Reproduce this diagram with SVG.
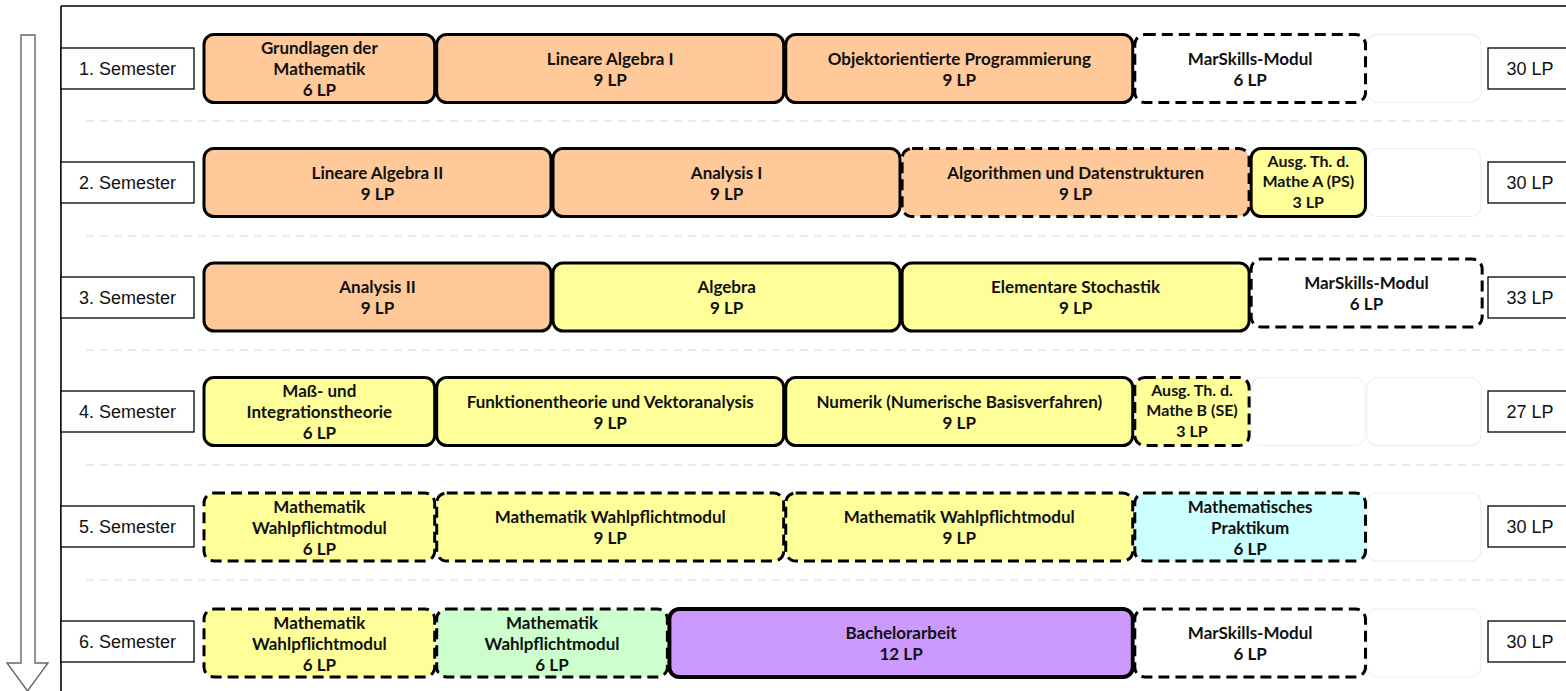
<svg xmlns="http://www.w3.org/2000/svg" width="1566" height="691" viewBox="0 0 1566 691">
<style>
.m{stroke:#000;stroke-width:3}
.d{stroke-dasharray:11 6}
.or{fill:#ffc999}.ye{fill:#ffff99}.wh{fill:#fff}.cy{fill:#ccffff}.gr{fill:#ccffcc}.pu{fill:#cc99ff}
.e{fill:#fff;stroke:#ececec;stroke-width:1}
.t{font-family:Lato,"Liberation Sans",sans-serif;font-weight:700;font-size:17px;text-anchor:middle;fill:#111}
.ts{font-size:16px}
.lb{fill:#fff;stroke:#000;stroke-width:1.3}
.s{font-family:"Liberation Sans",Arial,sans-serif;font-size:18px;text-anchor:middle;fill:#111}
.sep{stroke:#e6e6dc;stroke-width:1.5;stroke-dasharray:8 6;fill:none}
</style>
<rect width="1566" height="691" fill="#fff"/>
<g id="frame">
<path d="M61 6H1566M61 6V691" stroke="#000" stroke-width="1.6" fill="none"/>
<path class="sep" d="M86 121H1566M86 236H1566M86 350H1566M86 465H1566M86 580H1566"/>
</g>
<g id="connectors">
<path d="M21 35H35V663H48L27.5 691L7 663H21Z" fill="#fff" stroke="#666" stroke-width="1.4"/>
</g>
<g id="labels">
<g id="sem1"><rect class="lb" x="61" y="48" width="133" height="41"/><text class="s" x="127.5" y="75">1. Semester</text></g>
<g id="sem2"><rect class="lb" x="61" y="162" width="133" height="41"/><text class="s" x="127.5" y="189">2. Semester</text></g>
<g id="sem3"><rect class="lb" x="61" y="277" width="133" height="41"/><text class="s" x="127.5" y="304">3. Semester</text></g>
<g id="sem4"><rect class="lb" x="61" y="391" width="133" height="41"/><text class="s" x="127.5" y="418">4. Semester</text></g>
<g id="sem5"><rect class="lb" x="61" y="506" width="133" height="41"/><text class="s" x="127.5" y="533">5. Semester</text></g>
<g id="sem6"><rect class="lb" x="61" y="621" width="133" height="41"/><text class="s" x="127.5" y="648">6. Semester</text></g>
<g id="lp1"><rect class="lb" x="1488" y="48" width="90" height="41"/><text class="s" x="1530" y="75">30 LP</text></g>
<g id="lp2"><rect class="lb" x="1488" y="162" width="90" height="41"/><text class="s" x="1530" y="189">30 LP</text></g>
<g id="lp3"><rect class="lb" x="1488" y="277" width="90" height="41"/><text class="s" x="1530" y="304">33 LP</text></g>
<g id="lp4"><rect class="lb" x="1488" y="391" width="90" height="41"/><text class="s" x="1530" y="418">27 LP</text></g>
<g id="lp5"><rect class="lb" x="1488" y="506" width="90" height="41"/><text class="s" x="1530" y="533">30 LP</text></g>
<g id="lp6"><rect class="lb" x="1488" y="621" width="90" height="41"/><text class="s" x="1530" y="648">30 LP</text></g>
</g>
<g id="placeholders">
<rect class="e" x="1367" y="34.5" width="114" height="68" rx="10"/>
<rect class="e" x="1367" y="148.5" width="114" height="68" rx="10"/>
<rect class="e" x="1251" y="377.5" width="114" height="68" rx="10"/>
<rect class="e" x="1367" y="377.5" width="114" height="68" rx="10"/>
<rect class="e" x="1367" y="493" width="114" height="68" rx="10"/>
<rect class="e" x="1367" y="609" width="114" height="68" rx="10"/>
</g>
<g id="row1">
<g id="grundlagen"><rect class="m or" x="204" y="34.5" width="230.7" height="68" rx="10"/><text class="t"><tspan x="319.35" y="54">Grundlagen der</tspan><tspan x="319.35" y="75">Mathematik</tspan><tspan x="319.35" y="96">6 LP</tspan></text></g>
<g id="la1"><rect class="m or" x="436.7" y="34.5" width="347" height="68" rx="10"/><text class="t"><tspan x="610.2" y="64.5">Lineare Algebra I</tspan><tspan x="610.2" y="85.5">9 LP</tspan></text></g>
<g id="oop"><rect class="m or" x="785.75" y="34.5" width="347" height="68" rx="10"/><text class="t"><tspan x="959.3" y="64.5">Objektorientierte Programmierung</tspan><tspan x="959.3" y="85.5">9 LP</tspan></text></g>
<g id="marskills1"><rect class="m d wh" x="1134.8" y="34.5" width="230.7" height="68" rx="10"/><text class="t"><tspan x="1250.15" y="64.5">MarSkills-Modul</tspan><tspan x="1250.15" y="85.5">6 LP</tspan></text></g>
</g>
<g id="row2">
<g id="la2"><rect class="m or" x="204" y="148.5" width="347" height="68" rx="10"/><text class="t"><tspan x="377.5" y="178.5">Lineare Algebra II</tspan><tspan x="377.5" y="199.5">9 LP</tspan></text></g>
<g id="ana1"><rect class="m or" x="553" y="148.5" width="347" height="68" rx="10"/><text class="t"><tspan x="726.6" y="178.5">Analysis I</tspan><tspan x="726.6" y="199.5">9 LP</tspan></text></g>
<g id="algo"><rect class="m d or" x="902.1" y="148.5" width="347" height="68" rx="10"/><text class="t"><tspan x="1075.6" y="178.5">Algorithmen und Datenstrukturen</tspan><tspan x="1075.6" y="199.5">9 LP</tspan></text></g>
<g id="ausgA"><rect class="m ye" x="1251.15" y="148.5" width="114.3" height="68" rx="10"/><text class="t ts"><tspan x="1308.3" y="166.5">Ausg. Th. d.</tspan><tspan x="1308.3" y="187">Mathe A (PS)</tspan><tspan x="1308.3" y="207.5">3 LP</tspan></text></g>
</g>
<g id="row3">
<g id="ana2"><rect class="m or" x="204" y="263" width="347" height="68" rx="10"/><text class="t"><tspan x="377.5" y="293">Analysis II</tspan><tspan x="377.5" y="314">9 LP</tspan></text></g>
<g id="algebra"><rect class="m ye" x="553" y="263" width="347" height="68" rx="10"/><text class="t"><tspan x="726.6" y="293">Algebra</tspan><tspan x="726.6" y="314">9 LP</tspan></text></g>
<g id="stoch"><rect class="m ye" x="902.1" y="263" width="347" height="68" rx="10"/><text class="t"><tspan x="1075.6" y="293">Elementare Stochastik</tspan><tspan x="1075.6" y="314">9 LP</tspan></text></g>
<g id="marskills3"><rect class="m d wh" x="1251.15" y="259" width="231" height="68" rx="10"/><text class="t"><tspan x="1366.5" y="289">MarSkills-Modul</tspan><tspan x="1366.5" y="310">6 LP</tspan></text></g>
</g>
<g id="row4">
<g id="mass"><rect class="m ye" x="204" y="377.5" width="230.7" height="68" rx="10"/><text class="t"><tspan x="319.35" y="397">Maß- und</tspan><tspan x="319.35" y="418">Integrationstheorie</tspan><tspan x="319.35" y="439">6 LP</tspan></text></g>
<g id="funk"><rect class="m ye" x="436.7" y="377.5" width="347" height="68" rx="10"/><text class="t"><tspan x="610.2" y="407.5">Funktionentheorie und Vektoranalysis</tspan><tspan x="610.2" y="428.5">9 LP</tspan></text></g>
<g id="numerik"><rect class="m ye" x="785.75" y="377.5" width="347" height="68" rx="10"/><text class="t"><tspan x="959.3" y="407.5">Numerik (Numerische Basisverfahren)</tspan><tspan x="959.3" y="428.5">9 LP</tspan></text></g>
<g id="ausgB"><rect class="m d ye" x="1134.8" y="377.5" width="114.3" height="68" rx="10"/><text class="t ts"><tspan x="1192" y="395.5">Ausg. Th. d.</tspan><tspan x="1192" y="416">Mathe B (SE)</tspan><tspan x="1192" y="436.5">3 LP</tspan></text></g>
</g>
<g id="row5">
<g id="wp5a"><rect class="m d ye" x="204" y="493" width="230.7" height="68" rx="10"/><text class="t"><tspan x="319.35" y="512.5">Mathematik</tspan><tspan x="319.35" y="533.5">Wahlpflichtmodul</tspan><tspan x="319.35" y="554.5">6 LP</tspan></text></g>
<g id="wp5b"><rect class="m d ye" x="436.7" y="493" width="347" height="68" rx="10"/><text class="t"><tspan x="610.2" y="523">Mathematik Wahlpflichtmodul</tspan><tspan x="610.2" y="544">9 LP</tspan></text></g>
<g id="wp5c"><rect class="m d ye" x="785.75" y="493" width="347" height="68" rx="10"/><text class="t"><tspan x="959.3" y="523">Mathematik Wahlpflichtmodul</tspan><tspan x="959.3" y="544">9 LP</tspan></text></g>
<g id="prak"><rect class="m d cy" x="1134.8" y="493" width="230.7" height="68" rx="10"/><text class="t"><tspan x="1250.15" y="512.5">Mathematisches</tspan><tspan x="1250.15" y="533.5">Praktikum</tspan><tspan x="1250.15" y="554.5">6 LP</tspan></text></g>
</g>
<g id="row6">
<g id="wp6a"><rect class="m d ye" x="204" y="609" width="230.7" height="68" rx="10"/><text class="t"><tspan x="319.35" y="628.5">Mathematik</tspan><tspan x="319.35" y="649.5">Wahlpflichtmodul</tspan><tspan x="319.35" y="670.5">6 LP</tspan></text></g>
<g id="wp6b"><rect class="m d gr" x="436.7" y="609" width="230.7" height="68" rx="10"/><text class="t"><tspan x="552.05" y="628.5">Mathematik</tspan><tspan x="552.05" y="649.5">Wahlpflichtmodul</tspan><tspan x="552.05" y="670.5">6 LP</tspan></text></g>
<g id="ba"><rect class="pu" x="669.4" y="609" width="463.4" height="68" rx="10" stroke="#000" stroke-width="4"/><text class="t"><tspan x="901.1" y="639">Bachelorarbeit</tspan><tspan x="901.1" y="660">12 LP</tspan></text></g>
<g id="marskills6"><rect class="m d wh" x="1134.8" y="609" width="230.7" height="68" rx="10"/><text class="t"><tspan x="1250.15" y="639">MarSkills-Modul</tspan><tspan x="1250.15" y="660">6 LP</tspan></text></g>
</g>
</svg>
